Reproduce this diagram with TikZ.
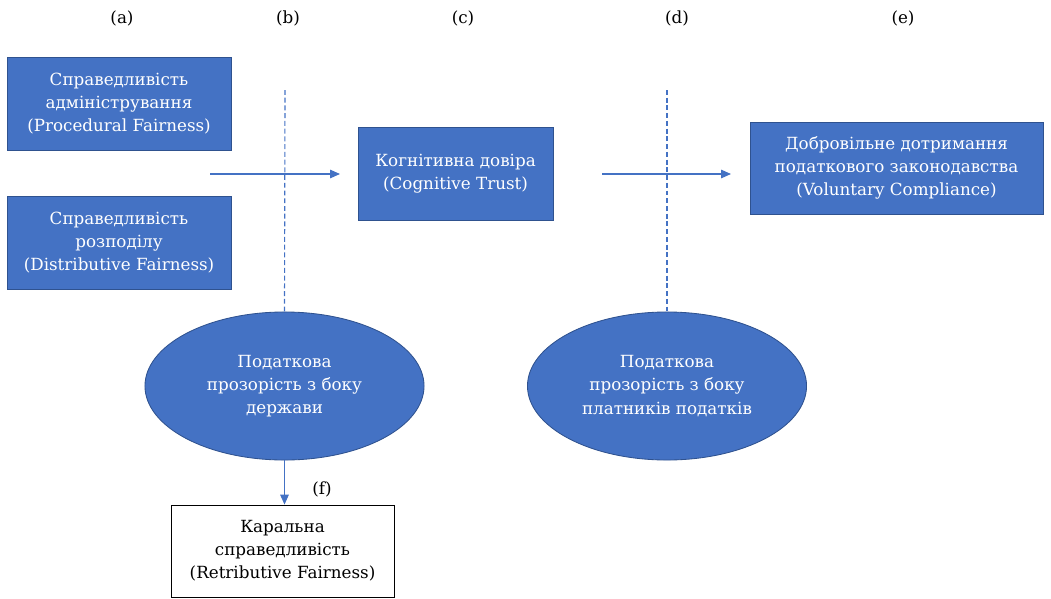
\documentclass[tikz,border=0pt]{standalone}
\usepackage{fontspec}
\setmainfont{DejaVu Serif}
\usetikzlibrary{shapes.geometric, positioning, calc, arrows.meta}

\begin{document}
\begin{tikzpicture}[x=0.025cm, y=-0.025cm, font=\fontsize{11.9}{16.4}\selectfont]
% --- CORES E ESTILOS ---
\definecolor{azul}{HTML}{4472C4}
\definecolor{borda}{HTML}{2F528F}
\tikzset{
  caixa/.style={draw=borda, fill=azul, text=white, align=center, line width=0.6pt, inner sep=2pt},
  elipse/.style={ellipse, draw=borda, fill=azul, text=white, align=center, line width=0.6pt, minimum width=6.975cm, minimum height=3.7cm, inner sep=0pt},
  seta/.style={->, >={Triangle[length=7pt, width=6pt]}, draw=azul, fill=azul, line width=0.9pt},
  tracejado/.style={draw=azul, dash pattern=on 3.5pt off 2pt, line width=0.8pt}
}
\useasboundingbox (0,0) rectangle (1051,598);

% LAYER 1: Rotulos das colunas
\node (la) at (122,18) {(a)};
\node (lb) at (288,18) {(b)};
\node (lc) at (463,18) {(c)};
\node (ld) at (677,18) {(d)};
\node (le) at (903,18) {(e)};

% LAYER 2: Caixas azuis
\node[caixa, minimum width=5.6cm, minimum height=2.325cm] (proc) at (119,103.5) {Справедливість\\адміністрування\\(Procedural Fairness)};
\node[caixa, minimum width=5.6cm, minimum height=2.325cm] (distr) at (119,243) {Справедливість\\розподілу\\(Distributive Fairness)};
\node[caixa, minimum width=4.875cm, minimum height=2.325cm] (cogn) at (455.5,173.5) {Когнітивна довіра\\(Cognitive Trust)};
\node[caixa, minimum width=7.325cm, minimum height=2.3cm] (volunt) at (896.5,168) {Добровільне дотримання\\податкового законодавства\\(Voluntary Compliance)};

% LAYER 3: Elipses de transparencia
\node[elipse] (transpGov) at (284.5,386) {Податкова\\прозорість з боку\\держави};
\node[elipse] (transpPay) at (667,386) {Податкова\\прозорість з боку\\платників податків};

% LAYER 4: Caixa branca
\node[draw=black, fill=white, align=center, line width=0.6pt, minimum width=5.575cm, minimum height=2.3cm] (retrib) at (282.5,551) {Каральна\\справедливість\\(Retributive Fairness)};
\node (lf) at (322,489) {(f)};

% LAYER 5: Setas e linhas tracejadas
\coordinate (ini1) at (210,174);
\coordinate (fim1) at (340,174);
\coordinate (ini2) at (602,174);
\coordinate (fim2) at (731,174);
\coordinate (topoB) at (285,90);
\coordinate (topoD) at (667,90);
\draw[tracejado] (topoB) -- (transpGov.north);
\draw[tracejado] (topoD) -- (transpPay.north);
\draw[seta] (ini1) -- (fim1);
\draw[seta] (ini2) -- (fim2);
\draw[seta] (transpGov.south) -- (transpGov.south |- retrib.north);
\end{tikzpicture}
\end{document}
